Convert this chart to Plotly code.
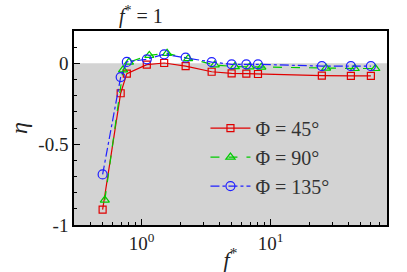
import plotly.graph_objects as go
import math

f_red = [0.5, 0.69, 0.77, 1.1, 1.5, 2.2, 3.5, 5.0, 6.5, 8.0, 25, 42, 60]
eta_red = [-0.905, -0.185, -0.064, -0.008, 0.002, -0.017, -0.052, -0.062, -0.064, -0.066, -0.076, -0.077, -0.077]

f_green = [0.52, 0.72, 0.80, 1.15, 1.58, 2.3, 3.7, 5.3, 6.9, 8.5, 27, 45, 65]
eta_green = [-0.846, -0.04, 0.008, 0.049, 0.062, 0.029, -0.01, -0.02, -0.022, -0.024, -0.03, -0.032, -0.032]

f_blue = [0.5, 0.69, 0.77, 1.1, 1.5, 2.2, 3.5, 5.0, 6.5, 8.0, 25, 42, 60]
eta_blue = [-0.687, -0.085, 0.009, 0.025, 0.056, 0.035, 0.008, -0.006, -0.006, -0.006, -0.017, -0.017, -0.017]

names = ["Φ = 45°", "Φ = 90°", "Φ = 135°"]

x_minor = [0.3, 0.4, 0.5, 0.6, 0.7, 0.8, 0.9, 2, 3, 4, 5, 6, 7, 8, 9, 20, 30, 40, 50, 60, 70, 80]

FONT = "Liberation Serif"

fig = go.Figure()
fig.add_shape(type="rect", xref="paper", yref="y", x0=0, x1=1, y0=-1, y1=0,
              fillcolor="#d3d3d3", line_width=0, layer="below")
fig.add_shape(type="line", xref="x", yref="paper", x0=0, x1=0, y0=0, y1=1,
              line=dict(color="black", width=3, dash="dash"))

fig.add_trace(go.Scatter(x=f_red, y=eta_red, name=names[0], mode="lines+markers",
                         line=dict(color="#e00000", width=1.2),
                         marker=dict(symbol="square-open", size=7, color="#e00000", line=dict(width=1.2))))
fig.add_trace(go.Scatter(x=f_green, y=eta_green, name=names[1], mode="lines+markers",
                         line=dict(color="#00cc00", width=1.2, dash="dash"),
                         marker=dict(symbol="triangle-up-open", size=8, color="#00cc00", line=dict(width=1.2))))
fig.add_trace(go.Scatter(x=f_blue, y=eta_blue, name=names[2], mode="lines+markers",
                         line=dict(color="#2020ff", width=1.2, dash="dashdot"),
                         marker=dict(symbol="circle-open", size=9, color="#2020ff", line=dict(width=1.2))))

fig.add_annotation(x=0, xref="x", y=1.08, yref="paper", text="<i>f</i><sup>*</sup> = 1",
                   showarrow=False, font=dict(family=FONT, size=20, color="#222"),
                   xanchor="center", yanchor="middle")

fig.update_layout(
    width=407, height=272,
    margin=dict(l=74, r=20, t=31, b=47),
    plot_bgcolor="white", paper_bgcolor="white",
    font=dict(family=FONT, size=19, color="#222"),
    showlegend=True,
    legend=dict(x=0.42, y=0.6, xanchor="left", yanchor="top", bgcolor="rgba(0,0,0,0)",
                font=dict(family=FONT, size=20, color="#333"), tracegroupgap=0, itemwidth=40),
)
fig.update_xaxes(type="log", range=[math.log10(0.3), math.log10(80)],
                 tickvals=[1, 10], ticktext=["10<sup>0</sup>", "10<sup>1</sup>"],
                 ticks="inside", ticklen=6, tickcolor="black", automargin=False,
                 minor=dict(tickvals=x_minor, ticks="inside", ticklen=3, tickcolor="black"),
                 showline=True, linecolor="black", linewidth=1.5, mirror=True,
                 showgrid=False, zeroline=False,
                 title=dict(text="<i>f</i><sup>*</sup>", standoff=0, font=dict(size=22)))
fig.update_yaxes(range=[-1, 0.2], tickvals=[0, -0.5, -1], ticktext=["0", "-0.5", "-1"],
                 ticks="inside", ticklen=6, tickcolor="black", automargin=False,
                 minor=dict(dtick=0.1, ticks="inside", ticklen=3, tickcolor="black", showgrid=False),
                 showline=True, linecolor="black", linewidth=1.5, mirror=True,
                 showgrid=False, zeroline=False,
                 title=dict(text="<i>η</i>", standoff=4, font=dict(size=24)))

fig.write_html("out.html", config={"displayModeBar": False},
               post_script="document.body.style.margin='0';document.body.style.overflow='hidden';")
